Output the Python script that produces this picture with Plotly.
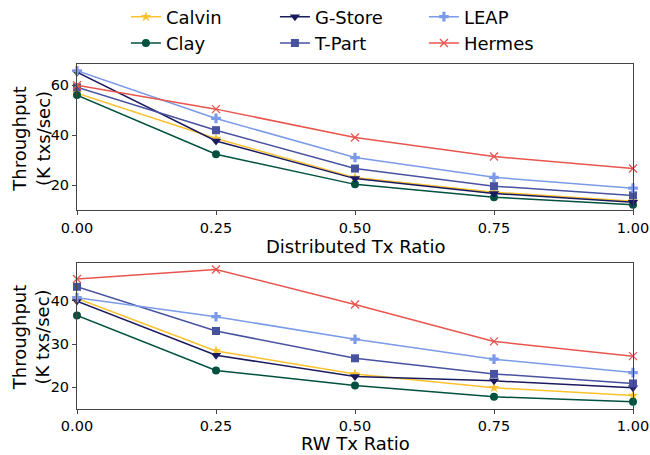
import plotly.graph_objects as go
from plotly.subplots import make_subplots

x_vals = [0.0, 0.25, 0.5, 0.75, 1.0]
systems = ["Calvin", "Clay", "G-Store", "T-Part", "LEAP", "Hermes"]

dist_calvin = [56.8, 38.7, 23.1, 17.3, 13.7]
dist_clay = [56.0, 32.4, 20.4, 15.3, 12.3]
dist_gstore = [65.1, 37.7, 22.7, 16.8, 13.3]
dist_tpart = [59.1, 42.0, 26.7, 19.7, 16.0]
dist_leap = [65.7, 46.7, 31.1, 23.2, 18.9]
dist_hermes = [59.9, 50.4, 39.1, 31.5, 26.7]

rw_calvin = [40.5, 28.4, 23.1, 19.9, 18.1]
rw_clay = [36.6, 23.9, 20.4, 17.8, 16.7]
rw_gstore = [39.9, 27.4, 22.5, 21.5, 19.9]
rw_tpart = [43.2, 33.0, 26.7, 23.1, 20.9]
rw_leap = [40.7, 36.3, 31.1, 26.5, 23.4]
rw_hermes = [45.0, 47.2, 39.1, 30.6, 27.2]

x_ticks = [0.0, 0.25, 0.5, 0.75, 1.0]
x_tick_text = ["0.00", "0.25", "0.50", "0.75", "1.00"]
x_titles = ["Distributed Tx Ratio", "RW Tx Ratio"]
y_title = "Throughput<br>(K txs/sec)"

dist_data = [dist_calvin, dist_clay, dist_gstore, dist_tpart, dist_leap, dist_hermes]
rw_data = [rw_calvin, rw_clay, rw_gstore, rw_tpart, rw_leap, rw_hermes]

colors = ["#FBC12E", "#00513F", "#1A1B5E", "#4752A0", "#7B9BE8", "#E8554E"]
symbols = ["star", "circle", "triangle-down", "square", "cross", "x-thin"]
sizes = [8, 8, 9, 8, 8, 8]
ranks = [1, 4, 2, 5, 3, 6]

fig = make_subplots(rows=2, cols=1, vertical_spacing=0.151)

for row, data in [(1, dist_data), (2, rw_data)]:
    for i, name in enumerate(systems):
        marker = dict(symbol=symbols[i], size=sizes[i], color=colors[i])
        if symbols[i] == "x-thin":
            marker["line"] = dict(color=colors[i], width=1.3)
        fig.add_trace(go.Scatter(
            x=x_vals, y=data[i], name=name, mode="lines+markers",
            line=dict(color=colors[i], width=1.5), marker=marker,
            legendrank=ranks[i], showlegend=(row == 1), legendgroup=name,
            cliponaxis=False,
        ), row=row, col=1)

font = "DejaVu Sans"
axis_common = dict(
    showline=True, linecolor="#444", linewidth=1, mirror=True,
    ticks="outside", ticklen=4, tickcolor="#444",
    showgrid=False, zeroline=False, automargin=False,
    tickfont=dict(family=font, size=14.5, color="#000"),
)

for r in [1, 2]:
    fig.update_xaxes(range=[0, 1], tickvals=x_ticks, ticktext=x_tick_text,
                     row=r, col=1, **axis_common)
    fig.update_yaxes(row=r, col=1, **axis_common)

fig.update_yaxes(range=[10, 68.4], tickvals=[20, 40, 60], row=1, col=1)
fig.update_yaxes(range=[15, 48.8], tickvals=[20, 30, 40], row=2, col=1)

title_font = dict(family=font, size=18, color="#000")
fig.add_annotation(text=x_titles[0], xref="paper", yref="paper", x=0.5, y=0.471,
                   xanchor="center", yanchor="middle", showarrow=False, font=title_font)
fig.add_annotation(text=x_titles[1], xref="paper", yref="paper", x=0.5, y=-0.1014,
                   xanchor="center", yanchor="middle", showarrow=False, font=title_font)
for yref in ["y domain", "y2 domain"]:
    fig.add_annotation(text=y_title, xref="paper", yref=yref, x=-0.0827, y=0.49,
                       xanchor="center", yanchor="middle", showarrow=False,
                       textangle=-90, font=title_font)

fig.update_layout(
    width=650, height=455,
    margin=dict(l=77, r=17, t=64, b=46, autoexpand=False),
    plot_bgcolor="white", paper_bgcolor="white",
    font=dict(family=font, size=17, color="#000"),
    legend=dict(orientation="h", x=0.088, xanchor="left", y=1.19, yanchor="top",
                entrywidth=104, entrywidthmode="pixels", traceorder="normal",
                tracegroupgap=0,
                font=dict(family=font, size=18, color="#000")),
)

fig.write_html("out.html", config={"displayModeBar": False},
               post_script="document.body.style.margin='0px';")
